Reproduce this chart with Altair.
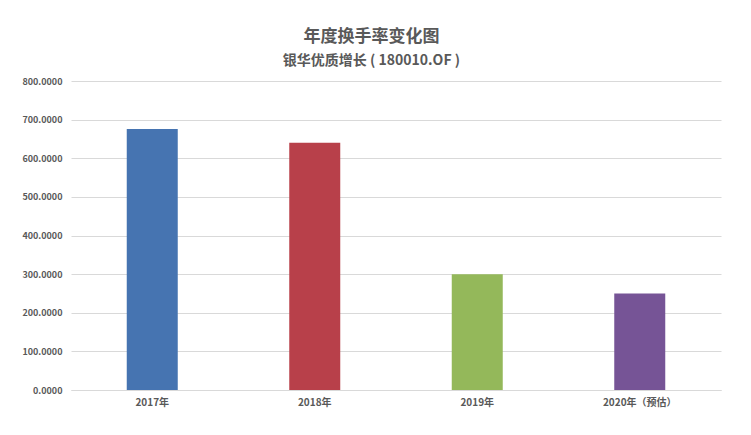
import altair as alt
import pandas as pd

years = ["2017年", "2018年", "2019年", "2020年（预估）"]
turnover = [676.0, 640.0, 300.0, 250.0]
colors = ["#4674B1", "#B8404A", "#94B85A", "#765496"]

df = pd.DataFrame({"year": years, "turnover": turnover})

FONT = "Noto Sans CJK SC"

chart = (
    alt.Chart(df)
    .mark_bar(size=51)
    .encode(
        x=alt.X(
            "year:N",
            sort=years,
            title=None,
            scale=alt.Scale(paddingInner=0.0, paddingOuter=0.0),
            axis=alt.Axis(
                labelAngle=0,
                labelFont=FONT,
                labelFontWeight="bold",
                labelFontSize=10,
                labelColor="#595959",
                labelPadding=7,
                ticks=False,
                domain=True,
                domainColor="#d9d9d9",
            ),
        ),
        y=alt.Y(
            "turnover:Q",
            title=None,
            scale=alt.Scale(domain=[0, 800]),
            axis=alt.Axis(
                values=[0, 100, 200, 300, 400, 500, 600, 700, 800],
                format=".4f",
                labelFont=FONT,
                labelFontWeight="bold",
                labelFontSize=9,
                labelColor="#595959",
                labelPadding=9,
                ticks=False,
                domain=False,
                gridColor="#d9d9d9",
            ),
        ),
        color=alt.Color(
            "year:N",
            sort=years,
            scale=alt.Scale(domain=years, range=colors),
            legend=None,
        ),
    )
    .properties(
        width=650,
        height=309,
        title=alt.Title(
            "年度换手率变化图",
            subtitle="银华优质增长 ( 180010.OF )",
            anchor="middle",
            frame="bounds",
            font=FONT,
            fontSize=17,
            fontWeight="bold",
            color="#595959",
            subtitleFont=FONT,
            subtitleFontSize=14,
            subtitleFontWeight="bold",
            subtitleColor="#595959",
            subtitlePadding=8,
            offset=8,
        ),
        padding={"left": 13, "top": 20, "right": 20, "bottom": 10},
        background="white",
    )
    .configure_view(stroke=None)
)

chart.save("out.html", embed_options={"renderer": "svg", "actions": False})
